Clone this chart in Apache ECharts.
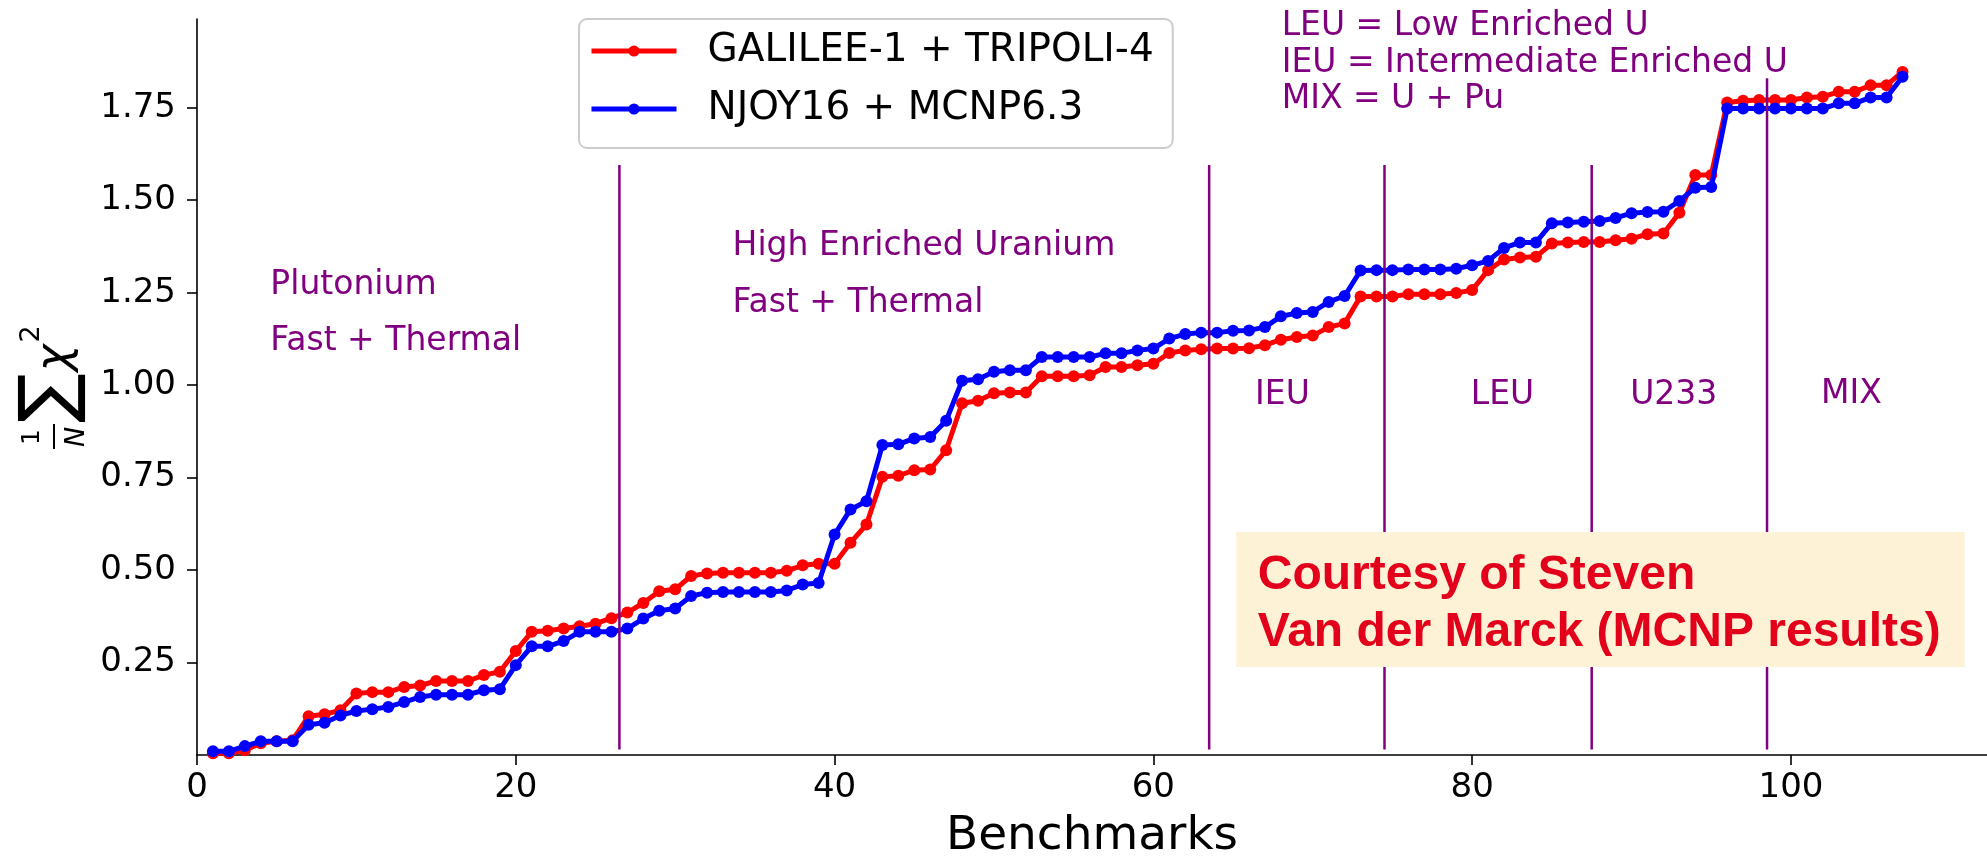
<!DOCTYPE html>
<html>
<head>
<meta charset="utf-8">
<script src="https://cdn.jsdelivr.net/npm/echarts@6/dist/echarts.min.js"></script>
<style>
html, body { margin: 0; padding: 0; background: #fff; }
#chart { width: 1987px; height: 860px; }
</style>
</head>
<body>
<div id="chart"></div>
<script>
// sorted chi2 per benchmark (benchmark number = position + 1)
var galilee = [
	0.005, 0.005, 0.013, 0.032, 0.037, 0.040, 0.105, 0.110, 0.121, 0.166,
	0.170, 0.170, 0.184, 0.188, 0.200, 0.200, 0.200, 0.216, 0.225, 0.281,
	0.333, 0.336, 0.342, 0.348, 0.355, 0.370, 0.385, 0.411, 0.443, 0.448,
	0.484, 0.491, 0.493, 0.493, 0.493, 0.493, 0.498, 0.513, 0.517, 0.517,
	0.574, 0.623, 0.752, 0.755, 0.770, 0.772, 0.824, 0.951, 0.958, 0.978,
	0.980, 0.980, 1.024, 1.024, 1.024, 1.027, 1.049, 1.049, 1.054, 1.058,
	1.087, 1.094, 1.097, 1.099, 1.099, 1.100, 1.108, 1.123, 1.130, 1.134,
	1.157, 1.167, 1.240, 1.240, 1.240, 1.246, 1.246, 1.246, 1.249, 1.257,
	1.311, 1.340, 1.345, 1.347, 1.383, 1.386, 1.387, 1.387, 1.392, 1.396,
	1.408, 1.410, 1.466, 1.568, 1.568, 1.764, 1.769, 1.771, 1.771, 1.771,
	1.778, 1.780, 1.793, 1.793, 1.811, 1.811, 1.847
];
var njoy = [
	0.010, 0.010, 0.024, 0.037, 0.037, 0.037, 0.082, 0.087, 0.107, 0.119,
	0.124, 0.130, 0.143, 0.157, 0.163, 0.163, 0.163, 0.175, 0.178, 0.243,
	0.294, 0.294, 0.308, 0.333, 0.333, 0.333, 0.342, 0.369, 0.390, 0.396,
	0.430, 0.439, 0.441, 0.441, 0.441, 0.441, 0.445, 0.461, 0.465, 0.596,
	0.664, 0.686, 0.838, 0.840, 0.856, 0.860, 0.904, 1.012, 1.016, 1.036,
	1.040, 1.040, 1.076, 1.076, 1.076, 1.076, 1.086, 1.086, 1.094, 1.099,
	1.126, 1.138, 1.142, 1.142, 1.147, 1.148, 1.157, 1.186, 1.195, 1.198,
	1.225, 1.241, 1.310, 1.311, 1.311, 1.313, 1.313, 1.313, 1.315, 1.324,
	1.336, 1.371, 1.386, 1.386, 1.438, 1.440, 1.442, 1.444, 1.452, 1.465,
	1.468, 1.469, 1.498, 1.534, 1.536, 1.748, 1.748, 1.748, 1.748, 1.748,
	1.748, 1.748, 1.762, 1.762, 1.778, 1.778, 1.834
];
var seriesNames = ['GALILEE-1 + TRIPOLI-4', 'NJOY16 + MCNP6.3'];

// region separators
var boundaries = [26.5, 63.5, 74.5, 87.5, 98.5];
var boundaryTops = [1.595, 1.595, 1.595, 1.595, 1.83];

var xTicks = [0, 20, 40, 60, 80, 100];
var yTicks = [0.25, 0.5, 0.75, 1.0, 1.25, 1.5, 1.75];

var regionLabels = [
	{ text: 'Plutonium', x: 4.6, y: 1.270, align: 'left' },
	{ text: 'Fast + Thermal', x: 4.6, y: 1.119, align: 'left' },
	{ text: 'High Enriched Uranium', x: 33.6, y: 1.374, align: 'left' },
	{ text: 'Fast + Thermal', x: 33.6, y: 1.220, align: 'left' },
	{ text: 'IEU', x: 68.1, y: 0.972, align: 'center' },
	{ text: 'LEU', x: 81.9, y: 0.972, align: 'center' },
	{ text: 'U233', x: 92.65, y: 0.972, align: 'center' },
	{ text: 'MIX', x: 103.8, y: 0.975, align: 'center' },
	{ text: 'LEU = Low Enriched U', x: 68.05, y: 1.970, align: 'left' },
	{ text: 'IEU = Intermediate Enriched U', x: 68.05, y: 1.871, align: 'left' },
	{ text: 'MIX = U + Pu', x: 68.05, y: 1.772, align: 'left' }
];

var purple = '#800080';
var font = 'DejaVu Sans';

function pairs(arr) {
	return arr.map(function (v, i) { return [i + 1, v]; });
}

var myChart = echarts.init(document.getElementById('chart'));

var series = [
	{
		name: seriesNames[0], type: 'line', data: pairs(galilee),
		symbol: 'circle', symbolSize: 12, z: 3,
		itemStyle: { color: '#ff0000' },
		lineStyle: { color: '#ff0000', width: 5 }
	},
	{
		name: seriesNames[1], type: 'line', data: pairs(njoy),
		symbol: 'circle', symbolSize: 12, z: 4,
		itemStyle: { color: '#0000ff' },
		lineStyle: { color: '#0000ff', width: 5 }
	}
];
boundaries.forEach(function (b, k) {
	series.push({
		type: 'line', data: [[b, 0.015], [b, boundaryTops[k]]],
		symbol: 'none', silent: true, z: 5,
		lineStyle: { color: purple, width: 2.5 }
	});
});

option = {
	animation: false,
	grid: { left: 197, right: 0, top: 19, bottom: 105, outerBoundsMode: 'none' },
	legend: {
		data: seriesNames,
		orient: 'vertical',
		left: 579, top: 19,
		padding: [12, 19, 19, 10],
		itemGap: 18,
		itemWidth: 85, itemHeight: 14,
		lineStyle: { width: 5 },
		borderColor: '#cccccc', borderWidth: 2, borderRadius: 8,
		backgroundColor: 'rgba(255,255,255,0.8)',
		textStyle: { fontFamily: font, fontSize: 39, color: '#000', lineHeight: 40, padding: [0, 0, 0, 26] }
	},
	xAxis: {
		type: 'value', min: 0, max: 112.3,
		name: 'Benchmarks', nameLocation: 'middle', nameGap: 58,
		nameTextStyle: { fontFamily: font, fontSize: 47, color: '#000' },
		splitLine: { show: false },
		axisLine: { lineStyle: { color: '#000', width: 1.6 } },
		axisTick: { customValues: xTicks, length: 10, lineStyle: { color: '#000', width: 1.6 } },
		axisLabel: { customValues: xTicks, margin: 16, fontFamily: font, fontSize: 34, color: '#000' }
	},
	yAxis: {
		type: 'value', min: 0, max: 1.99,
		splitLine: { show: false },
		axisLine: { show: true, lineStyle: { color: '#000', width: 1.6 } },
		axisTick: { show: true, customValues: yTicks, length: 10, lineStyle: { color: '#000', width: 1.6 } },
		axisLabel: {
			customValues: yTicks, margin: 21, fontFamily: font, fontSize: 34, color: '#000',
			formatter: function (v) { return v.toFixed(2); }
		}
	},
	series: series
};

myChart.setOption(option);

// annotations placed through the axes
var graphics = [];
regionLabels.forEach(function (r) {
	var p = myChart.convertToPixel({ gridIndex: 0 }, [r.x, r.y]);
	graphics.push({
		type: 'text', x: p[0], y: p[1], z: 10,
		style: { text: r.text, fontFamily: font, fontSize: 33, fill: purple, align: r.align, verticalAlign: 'middle' }
	});
});

var boxA = myChart.convertToPixel({ gridIndex: 0 }, [65.2, 0.603]);
var boxB = myChart.convertToPixel({ gridIndex: 0 }, [110.9, 0.238]);
graphics.push({
	type: 'rect', z: 20,
	shape: { x: boxA[0], y: boxA[1], width: boxB[0] - boxA[0], height: boxB[1] - boxA[1] },
	style: { fill: '#fdf2d6' }
});
var credit = [['Courtesy of Steven', 0.484], ['Van der Marck (MCNP results)', 0.330]];
credit.forEach(function (c) {
	var p = myChart.convertToPixel({ gridIndex: 0 }, [66.55, c[1]]);
	graphics.push({
		type: 'text', x: p[0], y: p[1], z: 21,
		style: { text: c[0], fontFamily: 'Liberation Sans', fontWeight: 'bold', fontSize: 48, fill: '#e2001a', align: 'left', verticalAlign: 'middle' }
	});
});

// y axis title: 1/N sum chi^2, rotated
graphics.push({
	type: 'group', x: 50, y: 452, rotation: Math.PI / 2, z: 10,
	children: [
		{ type: 'text', x: 15, y: -18, style: { text: '1', fontFamily: font, fontSize: 25, fill: '#000', align: 'center', verticalAlign: 'middle' } },
		{ type: 'line', shape: { x1: 3, y1: 4, x2: 28, y2: 4 }, style: { stroke: '#000', lineWidth: 2 } },
		{ type: 'text', x: 15, y: 27, style: { text: 'N', fontFamily: font, fontStyle: 'italic', fontSize: 27, fill: '#000', align: 'center', verticalAlign: 'middle' } },
		{ type: 'text', x: 54, y: 2, style: { text: '\u2211', fontFamily: font, fontSize: 74, fill: '#000', align: 'center', verticalAlign: 'middle' } },
		{ type: 'text', x: 94, y: 6, style: { text: '\u03c7', fontFamily: font, fontStyle: 'italic', fontSize: 46, fill: '#000', align: 'center', verticalAlign: 'middle' } },
		{ type: 'text', x: 118, y: -18, style: { text: '2', fontFamily: font, fontSize: 27, fill: '#000', align: 'center', verticalAlign: 'middle' } }
	]
});

myChart.setOption({ graphic: graphics });

window.addEventListener('resize', function () {
	myChart.resize();
});
</script>
</body>
</html>
